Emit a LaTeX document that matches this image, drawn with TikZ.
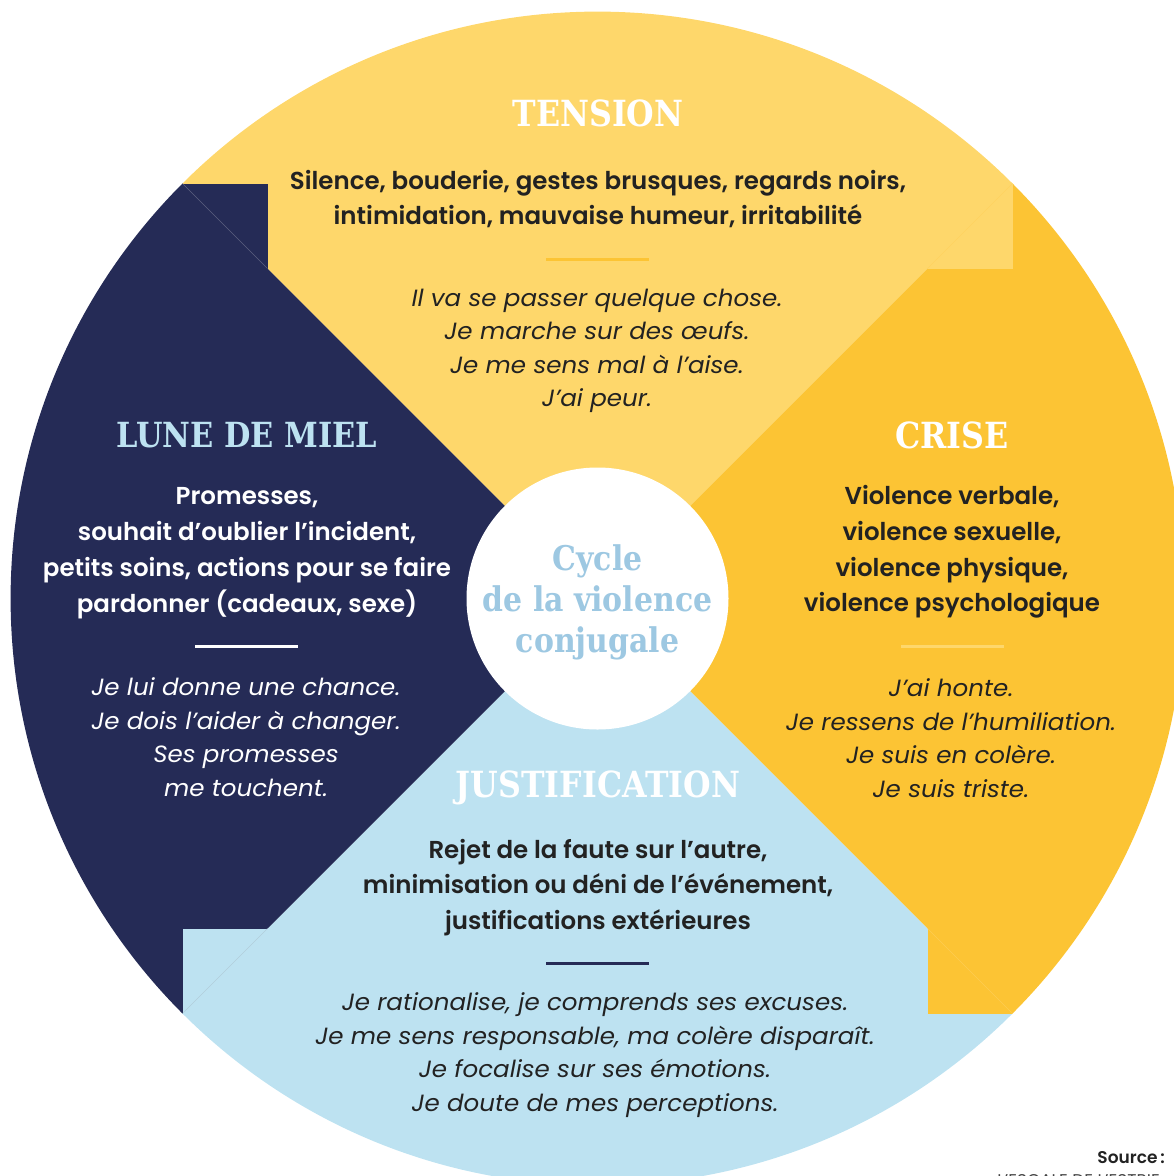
\documentclass[tikz,border=0pt]{standalone}
\usepackage{fontspec}
\setmainfont{Poppins}[BoldFont={Poppins SemiBold}]
\newfontfamily\itfont[FakeStretch=1.045]{Poppins}
\newfontfamily\slabfont[FakeStretch=0.88]{DejaVu Serif}
\definecolor{tyel}{HTML}{FED76B}
\definecolor{cyel}{HTML}{FCC434}
\definecolor{navy}{HTML}{252B56}
\definecolor{lblue}{HTML}{BDE2F1}
\definecolor{cblue}{HTML}{9DC8E2}
\definecolor{ink}{HTML}{222222}
\tikzset{
  ttl/.style={inner sep=0pt, font=\slabfont\bfseries\fontsize{36}{40}\selectfont},
  boldtxt/.style={inner sep=0pt, align=center, font=\bfseries\fontsize{24.5}{35.8}\selectfont},
  itxt/.style={inner sep=0pt, align=center, font=\itfont\itshape\fontsize{23.5}{33.5}\selectfont},
  sepline/.style={line width=3pt},
  seam/.style={line width=0.5pt}
}
\begin{document}
\begin{tikzpicture}[x=1pt,y=-1pt]
\useasboundingbox (0,0) rectangle (1174,1176);
\begin{scope}
  \clip (597.5,598.5) circle[radius=586.9pt];
  % quadrants
  \fill[tyel] (597.5,598.5) -- (-402.5,-401.5) -- (1597.5,-401.5) -- cycle;
  \fill[cyel] (597.5,598.5) -- (1597.5,-401.5) -- (1597.5,1598.5) -- cycle;
  \fill[lblue] (597.5,598.5) -- (1597.5,1598.5) -- (-402.5,1598.5) -- cycle;
  \fill[navy] (597.5,598.5) -- (-402.5,1598.5) -- (-402.5,-401.5) -- cycle;
  % pinwheel squares
  \fill[navy] (182.5,183.5) rectangle (267.5,268.5);
  \fill[tyel] (927.5,183.5) rectangle (1012.5,268.5);
  \fill[cyel] (927.5,928.5) rectangle (1012.5,1013.5);
  \fill[lblue] (182.5,928.5) rectangle (267.5,1013.5);
  % faint seams
  \draw[seam, navy!75!white] (182.5,183.5) -- (267.5,268.5);
  \draw[seam, tyel!80!cyel] (1012.5,183.5) -- (927.5,268.5);
  \draw[seam, cyel!85!white] (1012.5,1013.5) -- (927.5,928.5);
  \draw[seam, lblue!80!gray] (182.5,1013.5) -- (267.5,928.5);
\end{scope}

% hub
\node[circle, fill=white, minimum size=262pt, inner sep=0pt] (hub) at (597.5,598.5) {};
\node[inner sep=0pt, align=center, text=cblue, font=\slabfont\bfseries\fontsize{34}{41}\selectfont] (hubtxt) at (597.5,602.5) {Cycle\\de la violence\\conjugale};

% TENSION
\node[ttl, text=white] (tension) at (598,113) {TENSION};
\node[boldtxt, text=ink] (tensionA) at (598,199) {Silence, bouderie, gestes brusques, regards noirs,\\intimidation, mauvaise humeur, irritabilité};
\draw[sepline, cyel] (546,259) -- (649,259);
\node[itxt, text=ink] (tensionB) at (597,351) {Il va se passer quelque chose.\\Je marche sur des œufs.\\Je me sens mal à l’aise.\\J’ai peur.};

% LUNE DE MIEL
\node[ttl, text=lblue, font=\slabfont\bfseries\fontsize{34.6}{40}\selectfont] (lune) at (247,435) {LUNE DE MIEL};
\node[boldtxt, text=white] (luneA) at (247,553) {Promesses,\\souhait d’oublier l’incident,\\petits soins, actions pour se faire\\pardonner (cadeaux, sexe)};
\draw[sepline, white] (195,646) -- (298,646);
\node[itxt, text=white] (luneB) at (246,737) {Je lui donne une chance.\\Je dois l’aider à changer.\\Ses promesses\\me touchent.};

% CRISE
\node[ttl, text=white] (crise) at (952,435) {CRISE};
\node[boldtxt, text=ink] (criseA) at (952,552) {Violence verbale,\\violence sexuelle,\\violence physique,\\violence psychologique};
\draw[sepline, tyel] (901,646) -- (1004,646);
\node[itxt, text=ink] (criseB) at (951,738) {J’ai honte.\\Je ressens de l’humiliation.\\Je suis en colère.\\Je suis triste.};

% JUSTIFICATION
\node[ttl, text=white] (justif) at (598,788) {JUSTIFICATION};
\node[boldtxt, text=ink] (justifA) at (598,887.5) {Rejet de la faute sur l’autre,\\minimisation ou déni de l’événement,\\justifications extérieures};
\draw[sepline, navy] (546,963) -- (649,963);
\node[itxt, text=ink] (justifB) at (595,1055) {Je rationalise, je comprends ses excuses.\\Je me sens responsable, ma colère disparaît.\\Je focalise sur ses émotions.\\Je doute de mes perceptions.};

% source
\node[inner sep=0pt, anchor=base east, text=ink, font=\bfseries\fontsize{17}{20}\selectfont] (src) at (1165,1163) {Source\,:};
\node[inner sep=0pt, anchor=base east, text=ink!85, font=\fontsize{17}{20}\selectfont] (escale) at (1160,1186) {L’ESCALE DE L’ESTRIE};
\end{tikzpicture}
\end{document}
